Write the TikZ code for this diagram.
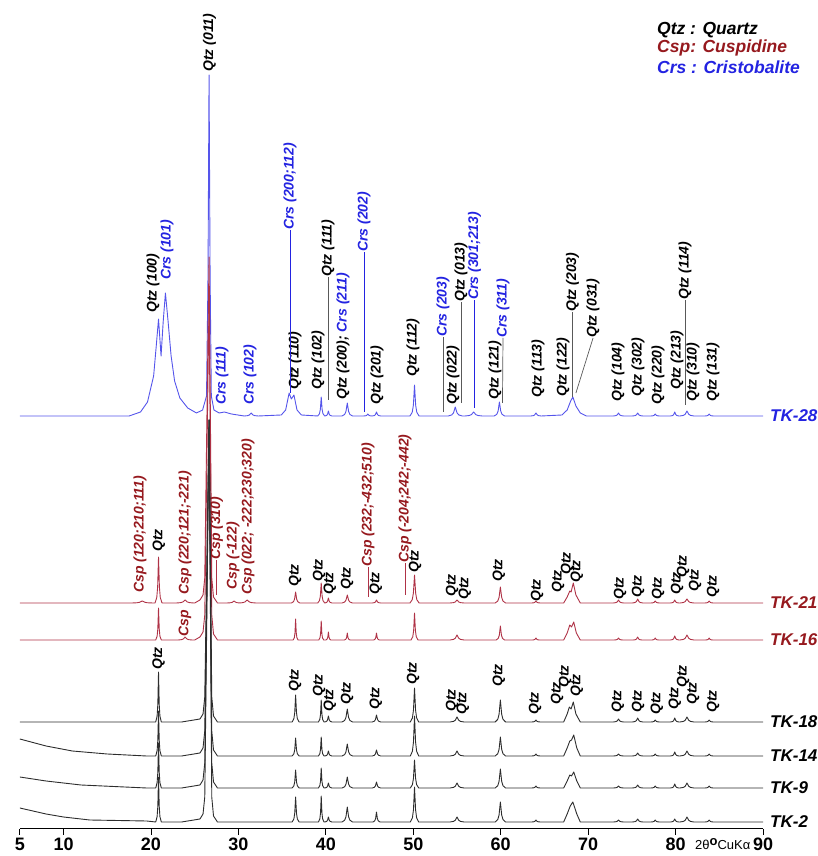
\documentclass[tikz,border=0pt]{standalone}
\usepackage{fontspec}
\setmainfont{Liberation Sans}
\definecolor{crsblue}{RGB}{35,35,225}
\definecolor{cspred}{RGB}{150,25,30}
\definecolor{bluecurve}{RGB}{85,85,235}
\definecolor{redcurve}{RGB}{175,50,70}
\definecolor{blackcurve}{RGB}{45,45,45}
% one peak: centre, height, half width
\newcommand\pk[3]{-- ({#1-4*#3},0) -- ({#1-2*#3},{0.12*#2}) -- ({#1-#3},{0.35*#2}) -- (#1,#2) -- ({#1+#3},{0.35*#2}) -- ({#1+2*#3},{0.12*#2}) -- ({#1+4*#3},0)}
\newcommand\mainpk[1]{-- (25.6,3) -- (25.95,8) -- (26.15,25) -- (26.64,#1) -- (26.95,25) -- (27.15,6) -- (27.6,0)}
\tikzset{
  pat/.style={shift={(-23.86,#1)},x=8.743pt},
  curve/.style={line width=0.9pt,line join=round},
  hkl/.style={rotate=90,anchor=west,inner sep=0pt,font=\fontsize{14}{14}\selectfont\bfseries\itshape},
  qtz/.style={hkl,text=black},
  crs/.style={hkl,text=crsblue},
  csp/.style={hkl,text=cspred},
  lead/.style={line width=0.7pt,color=gray!70!black},
  tklab/.style={anchor=west,inner sep=0pt,font=\fontsize{17}{17}\selectfont\bfseries\itshape},
  leg/.style={anchor=west,inner sep=0pt,font=\fontsize{17.5}{17.5}\selectfont\bfseries\itshape},
  axlab/.style={inner sep=0pt,font=\fontsize{18}{18}\selectfont\bfseries}
}
\begin{document}
\begin{tikzpicture}[x=1pt,y=1pt]
\useasboundingbox (0,0) rectangle (818,856);
% legend
\node[leg,text=black] (legq) at (657,826) {Qtz : Quartz};
\node[leg,text=cspred] (legc) at (657,808) {Csp: Cuspidine};
\node[leg,text=crsblue] (legr) at (657,789) {Crs : Cristobalite};
% TK-28
\begin{scope}[pat=440]
\draw[curve,bluecurve] (5,0) -- (17.5,0) -- (18.8,4) -- (19.6,14) -- (20.3,40) -- (20.6,70) -- (20.86,97) -- (21.15,60) -- (21.4,95) -- (21.65,123) -- (21.95,95) -- (22.3,60) -- (22.7,35) -- (23.3,18) -- (24.2,8) -- (25.2,3) -- (25.9,6) -- (26.35,20) -- (26.52,140) -- (26.64,341) -- (26.76,140) -- (26.9,20) -- (27.2,6) -- (27.8,3) -- (28.4,4) -- (29.2,2) \pk{31.46}{3}{0.2} -- (34.9,1) -- (35.4,6) -- (35.8,23) -- (36.05,17) -- (36.35,21) -- (36.7,6) -- (37.2,1) \pk{39.47}{19}{0.1} \pk{40.29}{5}{0.1} \pk{42.45}{13}{0.15} \pk{44.8}{2}{0.12} \pk{45.79}{4}{0.12} \pk{50.14}{31}{0.13} \pk{54.8}{9}{0.2} \pk{56.9}{4}{0.25} \pk{59.85}{14}{0.15} \pk{64.03}{3}{0.15} -- (67.0,1) -- (67.6,6) -- (68.0,15) -- (68.25,19) -- (68.6,10) -- (69.1,3) -- (69.8,0) \pk{73.47}{3}{0.15} \pk{75.66}{3}{0.15} \pk{77.67}{2}{0.12} \pk{79.9}{4}{0.12} \pk{81.3}{5}{0.2} \pk{83.84}{2}{0.12} -- (90,0);
\node[qtz] (q28a) at (20.23,103) {Qtz (100)};
\node[crs] (r28a) at (21.83,136) {Crs (101)};
\node[qtz] (q28b) at (26.7,344) {Qtz (011)};
\node[crs] (r28b) at (28.12,11) {Crs (111)};
\node[crs] (r28c) at (31.32,11) {Crs (102)};
\node[crs] (r28d) at (35.9,186) {Crs (200;112)};
\node[qtz] (q28c) at (36.47,26) {Qtz (110)};
\node[qtz] (q28d) at (39.10,26) {Qtz (102)};
\node[qtz] (q28e) at (40.24,139) {Qtz (111)};
\node[qtz] (q28f) at (41.96,16) {Qtz (200); \textcolor{crsblue}{Crs (211)}};
\node[crs] (r28e) at (44.36,164) {Crs (202)};
\node[qtz] (q28g) at (45.85,11) {Qtz (201)};
\node[qtz] (q28h) at (49.97,39) {Qtz (112)};
\node[crs] (r28f) at (53.40,79) {Crs (203)};
\node[qtz] (q28i) at (54.54,11) {Qtz (022)};
\node[qtz] (q28j) at (55.45,114) {Qtz (013)};
\node[crs] (r28g) at (57.0,116) {Crs (301;213)};
\node[qtz] (q28k) at (59.35,16) {Qtz (121)};
\node[crs] (r28h) at (60.26,78) {Crs (311)};
\node[qtz] (q28l) at (64.26,18) {Qtz (113)};
\node[qtz] (q28m) at (67.12,19) {Qtz (122)};
\node[qtz] (q28n) at (68.2,104) {Qtz (203)};
\node[qtz] (q28o) at (70.56,78) {Qtz (031)};
\node[qtz] (q28p) at (73.41,14) {Qtz (104)};
\node[qtz] (q28q) at (75.70,19) {Qtz (302)};
\node[qtz] (q28r) at (77.99,11) {Qtz (220)};
\node[qtz] (q28s) at (80.16,26) {Qtz (213)};
\node[qtz] (q28t) at (81.08,116) {Qtz (114)};
\node[qtz] (q28u) at (81.99,14) {Qtz (310)};
\node[qtz] (q28v) at (84.28,14) {Qtz (131)};
\coordinate (p28a) at (35.9,23);
\coordinate (p28b) at (40.24,16);
\coordinate (p28c) at (44.36,4);
\coordinate (p28d) at (53.40,4);
\coordinate (p28e) at (55.45,13);
\coordinate (p28f) at (57.0,8);
\coordinate (p28g) at (60.2,13);
\coordinate (p28h) at (68.2,19);
\coordinate (p28i) at (68.6,23);
\coordinate (p28j) at (81.08,11);
\draw[lead,crsblue] (p28a) -- (r28d.west);
\draw[lead] (p28b) -- (q28e.west);
\draw[lead,crsblue] (p28c) -- (r28e.west);
\draw[lead] (p28d) -- (r28f.west);
\draw[lead] (p28e) -- (q28j.west);
\draw[lead,crsblue] (p28f) -- (r28g.west);
\draw[lead] (p28g) -- (r28h.west);
\draw[lead] (p28h) -- (q28n.west);
\draw[lead] (p28i) -- (q28o.west);
\draw[lead] (p28j) -- (q28t.west);
\node[tklab,text=crsblue] (tk28) at (90.8,0) {TK-28};
\end{scope}
% TK-16
\begin{scope}[pat=216]
\draw[curve,redcurve] (5,0) \pk{20.86}{32}{0.08} \pk{23.9}{3}{0.2} -- (25.0,0) \mainpk{340} \pk{36.54}{21}{0.07} \pk{39.47}{19}{0.07} \pk{40.29}{8}{0.07} \pk{42.45}{7}{0.08} \pk{45.79}{7}{0.08} \pk{50.14}{27}{0.1} \pk{55.0}{5}{0.2} \pk{59.96}{14}{0.12} \pk{64.03}{2}{0.1} -- (67.2,0) -- (67.6,7) -- (67.9,15) -- (68.1,13) -- (68.35,18) -- (68.65,7) -- (69.1,0) \pk{73.47}{2}{0.12} \pk{75.66}{3}{0.12} \pk{77.67}{2}{0.1} \pk{79.9}{4}{0.12} \pk{81.3}{5}{0.2} \pk{83.84}{2}{0.1} -- (90,0);
\node[csp] (c16a) at (23.89,3) {Csp};
\node[qtz,anchor=east] (q16a) at (20.86,-7) {Qtz};
\node[tklab,text=cspred] (tk16) at (90.8,0) {TK-16};
\end{scope}
% TK-21
\begin{scope}[pat=253]
\draw[curve,redcurve] (5,0) -- (17.5,0) \pk{19.0}{2}{0.3} \pk{20.86}{46}{0.1} \pk{23.9}{3}{0.25} -- (25.0,0) \mainpk{346} \pk{29.5}{2}{0.2} \pk{31.0}{3}{0.25} \pk{36.54}{11}{0.12} \pk{39.47}{20}{0.1} \pk{40.29}{5}{0.1} \pk{42.45}{8}{0.15} \pk{45.79}{3}{0.12} \pk{50.14}{28}{0.13} \pk{55.0}{3}{0.2} \pk{59.96}{16}{0.15} \pk{64.03}{2}{0.12} -- (67.2,0) -- (67.6,6) -- (67.9,12) -- (68.05,11) -- (68.3,20) -- (68.6,8) -- (69.1,0) \pk{73.47}{3}{0.15} \pk{75.66}{4}{0.15} \pk{77.67}{2}{0.12} \pk{79.9}{3}{0.12} \pk{81.3}{4}{0.2} \pk{83.84}{2}{0.12} -- (90,0);
\node[csp] (c21a) at (18.74,10) {Csp (120;210;111)};
\node[csp] (c21b) at (23.89,8) {Csp (220;121;-221)};
\node[csp] (c21c) at (27.5,43) {Csp (310)};
\node[csp] (c21d) at (29.38,13) {Csp (-122)};
\node[csp] (c21e) at (31.09,8) {Csp (022; -222;230;320)};
\node[csp] (c21f) at (44.82,36) {Csp (232;-432;510)};
\node[csp] (c21g) at (49.05,40) {Csp (-204;242;-442)};
\coordinate (p21a) at (27.5,8);
\coordinate (p21b) at (44.82,6);
\coordinate (p21c) at (49.05,8);
\draw[lead,redcurve] (p21a) -- (c21c.west);
\draw[lead,redcurve] (p21b) -- (c21f.west);
\draw[lead,redcurve] (p21c) -- (c21g.west);
\foreach \t/\h [count=\i] in {20.91/51,36.47/16,39.22/21,40.47/8,42.42/13,45.73/8,50.2/30,54.43/6,55.91/3,59.80/21,64.15/1,66.55/10,67.58/28,68.72/20,73.64/3,75.70/5,77.99/3,80.16/8,80.85/25,82.22/11,84.28/5}
  \node[qtz] (q21-\i) at (\t,\h) {Qtz};
\node[tklab,text=cspred] (tk21) at (90.8,0) {TK-21};
\end{scope}
% TK-18
\begin{scope}[pat=134]
\draw[curve,blackcurve] (5,0) \pk{20.86}{50}{0.08} -- (23.5,0) \mainpk{302} \pk{36.54}{27}{0.1} \pk{39.47}{22}{0.08} \pk{40.29}{6}{0.1} \pk{42.45}{13}{0.15} \pk{45.79}{7}{0.12} \pk{50.14}{34}{0.12} \pk{55.0}{5}{0.2} \pk{59.96}{22}{0.15} \pk{64.03}{2}{0.12} -- (67.2,0) -- (67.6,8) -- (67.85,15) -- (68.05,13) -- (68.3,20) -- (68.6,8) -- (69.1,0) \pk{73.47}{3}{0.15} \pk{75.66}{4}{0.15} \pk{77.67}{2}{0.12} \pk{79.9}{4}{0.12} \pk{81.3}{5}{0.2} \pk{83.84}{2}{0.12} -- (90,0);
\foreach \t/\h [count=\i] in {36.47/30,39.22/25,40.47/10,42.42/17,45.73/12,49.97/37,54.43/10,55.68/7,59.80/35,63.92/7,66.44/17,67.35/34,68.72/25,73.41/9,75.70/9,77.87/7,79.93/12,80.85/34,81.99/17,84.28/9}
  \node[qtz] (q18-\i) at (\t,\h) {Qtz};
\node[tklab,text=black] (tk18) at (90.8,0) {TK-18};
\end{scope}
% TK-14
\begin{scope}[pat=100]
\draw[curve,blackcurve] (5,17) -- (8,10) -- (11,5) -- (15,2) -- (19.5,0) \pk{20.86}{45}{0.08} -- (23.5,0) \mainpk{336} \pk{36.54}{18}{0.1} \pk{39.47}{19}{0.08} \pk{40.29}{5}{0.1} \pk{42.45}{12}{0.15} \pk{45.79}{6}{0.12} \pk{50.14}{40}{0.12} \pk{55.0}{5}{0.2} \pk{59.96}{19}{0.15} \pk{64.03}{2}{0.12} -- (67.2,0) -- (67.6,8) -- (67.9,15) -- (68.1,16) -- (68.35,21) -- (68.7,8) -- (69.1,0) \pk{73.47}{2}{0.15} \pk{75.66}{3}{0.15} \pk{77.67}{2}{0.12} \pk{79.9}{4}{0.12} \pk{81.3}{5}{0.2} \pk{83.84}{2}{0.12} -- (90,0);
\node[tklab,text=black] (tk14) at (90.8,0) {TK-14};
\end{scope}
% TK-9
\begin{scope}[pat=68]
\draw[curve,blackcurve] (5,11) -- (8,7) -- (12,3) -- (19.5,0) \pk{20.86}{45}{0.08} -- (23.5,0) \mainpk{368} \pk{36.54}{18}{0.1} \pk{39.47}{20}{0.08} \pk{40.29}{5}{0.1} \pk{42.45}{11}{0.15} \pk{45.79}{6}{0.12} \pk{50.14}{28}{0.12} \pk{55.0}{5}{0.2} \pk{59.96}{19}{0.15} \pk{64.03}{2}{0.12} -- (67.2,0) -- (67.6,7) -- (67.9,13) -- (68.1,12) -- (68.35,16) -- (68.7,7) -- (69.1,0) \pk{73.47}{2}{0.15} \pk{75.66}{3}{0.15} \pk{77.67}{2}{0.12} \pk{79.9}{4}{0.12} \pk{81.3}{5}{0.2} \pk{83.84}{2}{0.12} -- (90,0);
\node[tklab,text=black] (tk9) at (90.8,0) {TK-9};
\end{scope}
% TK-2
\begin{scope}[pat=34]
\draw[curve,blackcurve] (5,14) -- (8,8) -- (10,5) -- (13,2) -- (19.5,1) \pk{20.86}{45}{0.08} -- (23.5,0) \mainpk{402} \pk{36.54}{25}{0.1} \pk{39.47}{26}{0.08} \pk{40.29}{5}{0.1} \pk{42.45}{15}{0.15} \pk{45.79}{10}{0.1} \pk{50.14}{35}{0.12} \pk{55.0}{5}{0.2} \pk{59.96}{20}{0.15} \pk{64.03}{2}{0.12} -- (67.2,0) -- (67.6,8) -- (67.95,16) -- (68.25,20) -- (68.7,8) -- (69.1,0) \pk{73.47}{2}{0.15} \pk{75.66}{3}{0.15} \pk{77.67}{2}{0.12} \pk{79.9}{3}{0.12} \pk{81.3}{5}{0.2} \pk{83.84}{2}{0.12} -- (90,0);
\node[tklab,text=black] (tk2) at (90.8,0) {TK-2};
\end{scope}
% axis
\begin{scope}[pat=27]
\draw[line width=1pt] (5,0) -- (90,0);
\foreach \t in {5,10,20,30,40,50,60,70,80,90}
  \draw[line width=1pt] (\t,0) -- (\t,-6);
\foreach \t in {5,10,20,30,40,50,60,70,80,90}
  \node[axlab] (ax\t) at (\t,-15) {\t};
\node[inner sep=0pt,font=\fontsize{13}{13}\selectfont] (axname) at (85.4,-15) {2θ\raisebox{4pt}{\bfseries o}CuKα};
\end{scope}
\end{tikzpicture}
\end{document}
